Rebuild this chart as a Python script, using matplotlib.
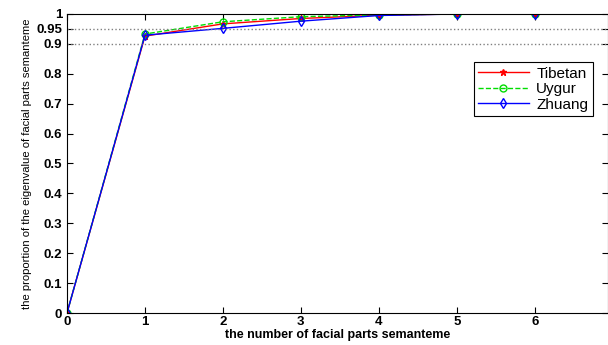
import numpy as np
import matplotlib.pyplot as plt

plt.rcParams['font.family'] = ['Liberation Sans', 'DejaVu Sans']

# number of facial parts semanteme
n_parts = [0, 1, 2, 3, 4, 5, 6]

# cumulative proportion of eigenvalue for each group
tibetan = [0, 0.926, 0.967, 0.985, 0.996, 1.0, 1.0]
uygur = [0, 0.933, 0.974, 0.991, 0.997, 1.0, 1.0]
zhuang = [0, 0.929, 0.952, 0.976, 0.995, 1.0, 1.0]

y_ticks = [0, 0.1, 0.2, 0.3, 0.4, 0.5, 0.6, 0.7, 0.8, 0.9, 0.95, 1]
y_tick_labels = ['0', '0.1', '0.2', '0.3', '0.4', '0.5', '0.6', '0.7', '0.8', '0.9', '0.95', '1']

fig = plt.figure(figsize=(6.08, 3.45), dpi=100)
ax = fig.add_axes([67 / 608, 32 / 345, 541 / 608, 299 / 345])

ax.plot(n_parts, tibetan, color='red', marker='*', markersize=5, linewidth=1, label='Tibetan')
ax.plot(n_parts, uygur, color='#00dd00', linestyle='--', marker='o', markersize=5,
        markerfacecolor='none', linewidth=1, label='Uygur')
ax.plot(n_parts, zhuang, color='blue', marker='d', markersize=5,
        markerfacecolor='none', linewidth=1, label='Zhuang')

ax.axhline(0.95, color='gray', linestyle=':', linewidth=1)
ax.axhline(0.9, color='gray', linestyle=':', linewidth=1)

ax.set_xlim(0, 6.94)
ax.set_ylim(0, 1)
ax.set_xticks(n_parts)
ax.set_yticks(y_ticks)
ax.set_yticklabels(y_tick_labels)
ax.tick_params(direction='in', top=True, right=True, length=4, labelsize=9.5)
for lab in ax.get_xticklabels() + ax.get_yticklabels():
    lab.set_fontweight('bold')
ax.tick_params(axis='x', pad=2)

ax.set_xlabel('the number of facial parts semanteme', fontsize=9, fontweight='bold', labelpad=1)
ax.set_ylabel('the proportion of the eigenvalue of facial parts semanteme', fontsize=8.1, labelpad=3)

leg = ax.legend(loc='upper right', bbox_to_anchor=(0.972, 0.839), borderaxespad=0,
                fontsize=11, fancybox=False, edgecolor='black', framealpha=1,
                handlelength=3.3, handletextpad=0.5, borderpad=0.3, labelspacing=0.1)
leg.get_frame().set_linewidth(0.8)

fig.savefig('out.png', dpi=100)
